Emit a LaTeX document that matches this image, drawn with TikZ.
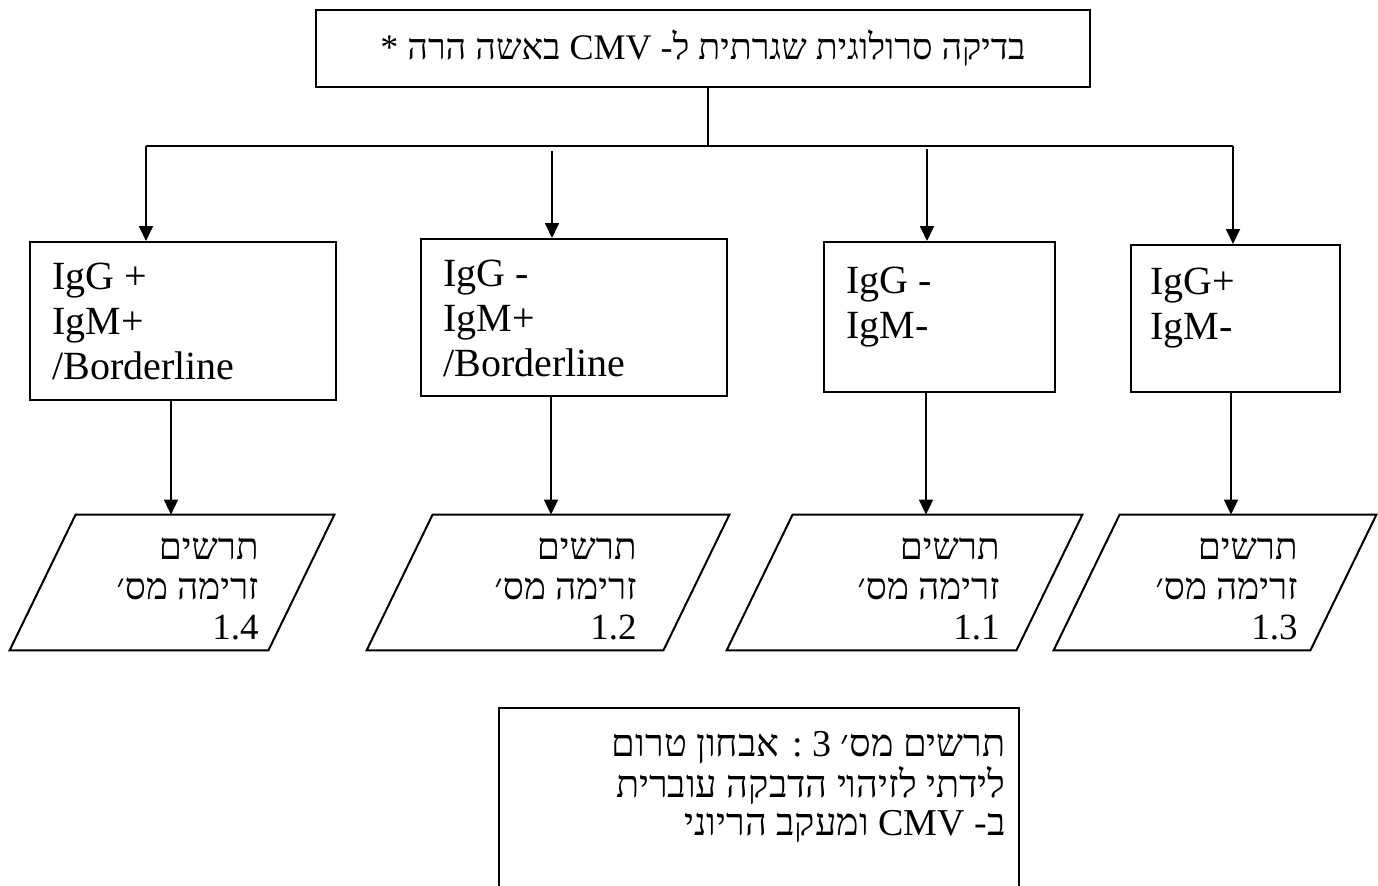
\documentclass[tikz,border=0pt]{standalone}
\usepackage{fontspec}
\setmainfont{Liberation Serif}
\newfontfamily\hebfont[Script=Hebrew]{Liberation Serif}
\usetikzlibrary{arrows.meta}
\TeXXeTstate=1

\begin{document}
\begin{tikzpicture}[x=0.5pt,y=-0.5pt,
		box/.style={draw,line width=1pt,inner sep=0pt},
		chart/.style={inner sep=0pt,minimum height=67.5pt},
		lat/.style={inner sep=0pt,anchor=north west,align=left,font=\fontsize{20}{22.5}\selectfont},
		heb/.style={inner sep=0pt,anchor=north east,align=right,font=\hebfont\fontsize{18.5}{20}\selectfont},
		link/.style={line width=0.9pt},
		arr/.style={link,-{Triangle[length=7.5pt,width=7pt]}}]
		\path[use as bounding box,clip] (0,0) rectangle (1378,885);
		\coordinate (H) at (708,146);
		\coordinate (HL) at (146,146);
		\coordinate (HR) at (1233,146);
		\coordinate (D2) at (552,151);
		\coordinate (D3) at (927,149);
		\coordinate (X1) at (171,0);
		\coordinate (X2) at (551,0);
		\coordinate (X3) at (926,0);
		\coordinate (X4) at (1231,0);
		\node[box,minimum width=387pt,minimum height=38.5pt,font=\hebfont\fontsize{18}{22}\selectfont] (S) at (703,48.5) {\beginR בדיקה סרולוגית שגרתית ל- \beginL CMV\endL{} באשה הרה *\endR};
		\node[box,minimum width=153pt,minimum height=79pt] (R1) at (183,321) {};
		\node[box,minimum width=153pt,minimum height=78.5pt] (R2) at (574,317.5) {};
		\node[box,minimum width=115.5pt,minimum height=75pt] (R3) at (939.5,317) {};
		\node[box,minimum width=104.5pt,minimum height=73.5pt] (R4) at (1235.5,318.5) {};
		\node[lat] (R1t) at (52,263) {IgG +\\IgM+\\/Borderline};
		\node[lat] (R2t) at (443,260) {IgG -\\IgM+\\/Borderline};
		\node[lat] (R3t) at (846,267) {IgG -\\IgM-};
		\node[lat] (R4t) at (1150,268) {IgG+\\IgM-};
		\node[chart,minimum width=162pt] (C1) at (172,582.5) {};
		\node[chart,minimum width=181pt] (C2) at (548,582.5) {};
		\node[chart,minimum width=177.5pt] (C3) at (904.5,582.5) {};
		\node[chart,minimum width=161pt] (C4) at (1215,582.5) {};
		\foreach \c in {C1,C2,C3,C4}
			\draw[line width=1pt] ([xshift=33pt]\c.north west) -- (\c.north east) -- ([xshift=-33pt]\c.south east) -- (\c.south west) -- cycle;
		\node[heb] (C1t) at (259,537) {\beginR תרשים\endR\\\beginR זרימה מס׳\endR\\1.4};
		\node[heb] (C2t) at (637,537) {\beginR תרשים\endR\\\beginR זרימה מס׳\endR\\1.2};
		\node[heb] (C3t) at (1000,537) {\beginR תרשים\endR\\\beginR זרימה מס׳\endR\\1.1};
		\node[heb] (C4t) at (1298,537) {\beginR תרשים\endR\\\beginR זרימה מס׳\endR\\1.3};
		\node[box,minimum width=260pt,minimum height=96pt] (T) at (759,804) {};
		\node[heb,font=\hebfont\fontsize{19}{19}\selectfont] (Tt) at (1006,731) {\beginR תרשים מס׳ 3 : אבחון טרום\endR\\\beginR לידתי לזיהוי הדבקה עוברית\endR\\\beginR ב- \beginL CMV\endL{} ומעקב הריוני\endR};
		\draw[link] (S.south -| H) -- (H);
		\draw[link] (HL) -- (HR);
		\draw[arr] (HL) -- (HL |- R1.north);
		\draw[arr] (D2) -- (D2 |- R2.north);
		\draw[arr] (D3) -- (D3 |- R3.north);
		\draw[arr] (HR) -- (HR |- R4.north);
		\draw[arr] (R1.south -| X1) -- (C1.north -| X1);
		\draw[arr] (R2.south -| X2) -- (C2.north -| X2);
		\draw[arr] (R3.south -| X3) -- (C3.north -| X3);
		\draw[arr] (R4.south -| X4) -- (C4.north -| X4);
	\end{tikzpicture}
\end{document}
